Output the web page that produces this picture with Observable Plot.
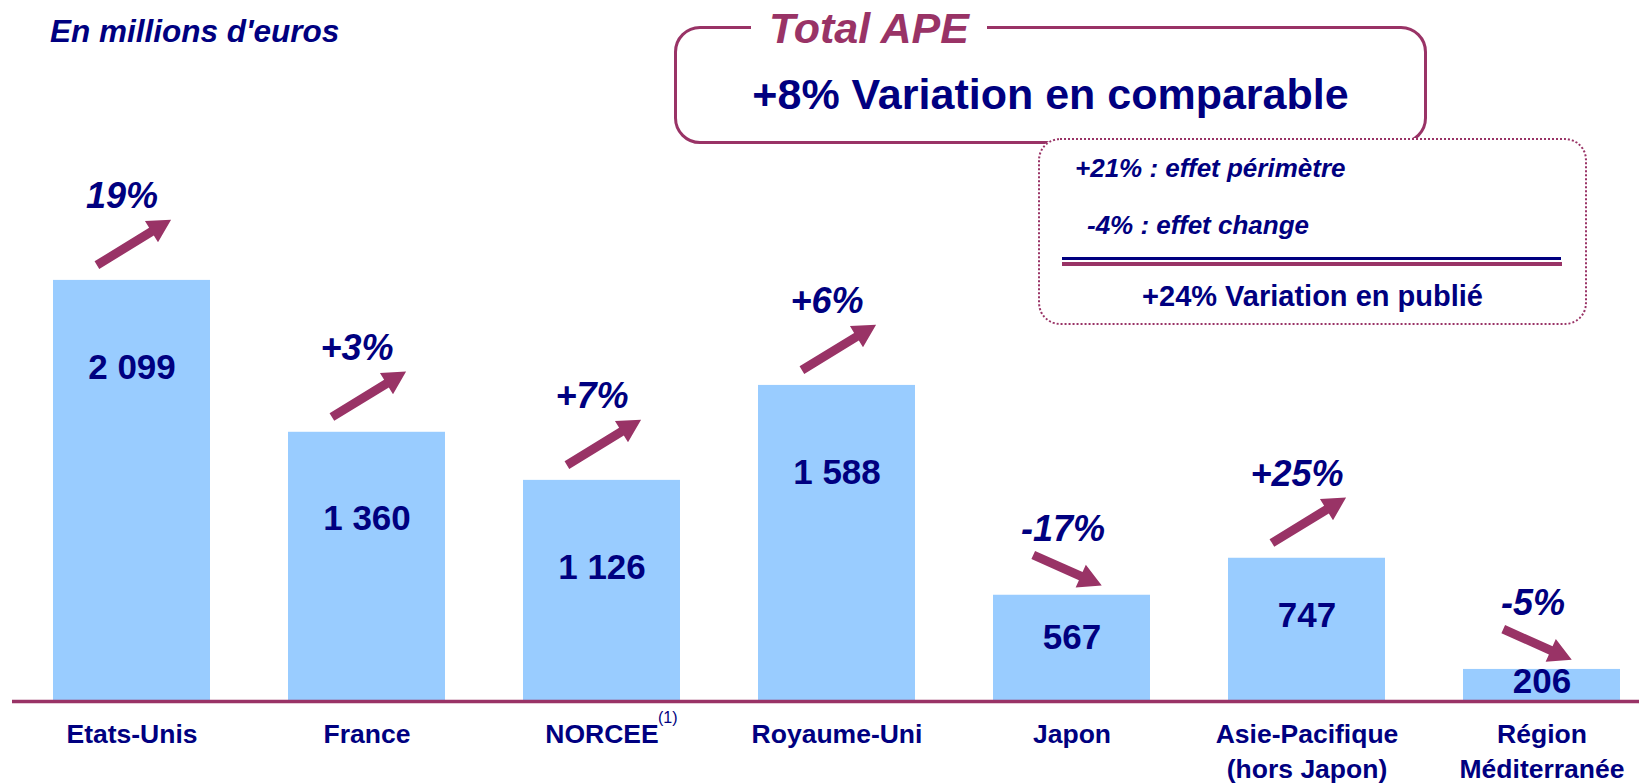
<!DOCTYPE html>
<html>
<head>
<meta charset="utf-8">
<script src="https://cdn.jsdelivr.net/npm/d3@7"></script>
<script src="https://cdn.jsdelivr.net/npm/@observablehq/plot@0.6"></script>
<style>
  body { margin: 0; background: #fff; }
  #wrap { position: relative; width: 1639px; height: 783px; overflow: hidden;
          font-family: "Liberation Sans", Arial, sans-serif; background: #fff; }
  #chart { position: absolute; left: 0; top: 0; }
  .ov { position: absolute; white-space: nowrap; color: #000080; font-weight: bold; }
  .it { font-style: italic; }
  #unit { left: 50px; top: 12px; font-size: 31.5px; line-height: 38px; }
  #apeBox { position: absolute; left: 674px; top: 26px; width: 753px; height: 118px; box-sizing: border-box;
            border: 3.5px solid #993366; border-radius: 26px; background: #fff; }
  #apeTitle { left: 751px; top: 5px; font-size: 43px; line-height: 46px; color: #993366; background: #fff; padding: 0 18px; }
  #apeLine { left: 674px; width: 753px; text-align: center; top: 70px; font-size: 43px; line-height: 48px; }
  #detailBox { position: absolute; left: 1038px; top: 138px; width: 549px; height: 187px; box-sizing: border-box;
               border: 2px dotted #993366; border-radius: 22px; background: #fff; }
  #eff1 { left: 1075px; top: 153px; font-size: 26px; line-height: 30px; }
  #eff2 { left: 1087px; top: 210px; font-size: 26px; line-height: 30px; }
  #navyLine { position: absolute; left: 1062px; top: 256.5px; width: 499px; height: 3px; background: #000080; }
  #maroonLine { position: absolute; left: 1062px; top: 261.5px; width: 500px; height: 4px; background: #993366; }
  #pub { left: 1038px; width: 549px; text-align: center; top: 279px; font-size: 29px; line-height: 34px; }
</style>
</head>
<body>
<div id="wrap">
  <div id="chart"></div>
  <div class="ov it" id="unit"></div>
  <div id="apeBox"></div>
  <div class="ov it" id="apeTitle"></div>
  <div class="ov" id="apeLine"></div>
  <div id="detailBox"></div>
  <div class="ov it" id="eff1"></div>
  <div class="ov it" id="eff2"></div>
  <div id="navyLine"></div>
  <div id="maroonLine"></div>
  <div class="ov" id="pub"></div>
</div>
<script>
// ---- data ----
const categories = ["Etats-Unis", "France", "NORCEE", "Royaume-Uni", "Japon", "Asie-Pacifique", "Région Méditerranée"];
const axisLabels = ["Etats-Unis", "France", "NORCEE", "Royaume-Uni", "Japon", "Asie-Pacifique\n(hors Japon)", "Région\nMéditerranée"];
const footnotes = ["", "", "(1)", "", "", "", ""];
const apeValues = [2099, 1360, 1126, 1588, 567, 747, 206];
const changes = [19, 3, 7, 6, -17, 25, -5];
const changeLabels = ["19%", "+3%", "+7%", "+6%", "-17%", "+25%", "-5%"];

const unitLabel = "En millions d'euros";
const totalTitle = "Total APE";
const totalLine = "+8% Variation en comparable";
const effectLines = ["+21% : effet périmètre", "-4% : effet change"];
const publishedLine = "+24% Variation en publié";

// ---- styles ----
const NAVY = "#000080", MAROON = "#993366", BAR = "#99ccff";
const FONT = "Liberation Sans, Arial, sans-serif";

document.getElementById("unit").textContent = unitLabel;
document.getElementById("apeTitle").textContent = totalTitle;
document.getElementById("apeLine").textContent = totalLine;
document.getElementById("eff1").textContent = effectLines[0];
document.getElementById("eff2").textContent = effectLines[1];
document.getElementById("pub").textContent = publishedLine;

const data = categories.map((cat, i) => ({
  cat, label: axisLabels[i], note: footnotes[i], value: apeValues[i],
  change: changes[i], pct: changeLabels[i]
}));

const fmt = d3.formatLocale({decimal: ",", thousands: " ", grouping: [3], currency: ["", " €"]}).format(",");
const labelY = v => Math.max(v - 423, 50 + (v - 50) * 0.6);

// block arrow shape (points from 0,0 to 0,-l)
const blockArrow = {
  draw(context, l) {
    const hw = 4.5, HW = 12.5, HL = 23;
    context.moveTo(-hw, 0);
    context.lineTo(-hw, -l + HL);
    context.lineTo(-HW, -l + HL);
    context.lineTo(0, -l);
    context.lineTo(HW, -l + HL);
    context.lineTo(hw, -l + HL);
    context.lineTo(hw, 0);
    context.closePath();
  }
};

const chart = Plot.plot({
  width: 1639,
  height: 783,
  marginTop: 0,
  marginBottom: 82,
  marginLeft: 52,
  marginRight: 18.5,
  style: {fontFamily: FONT, background: "#fff"},
  x: {domain: categories, paddingInner: 0.333, paddingOuter: 0, axis: null},
  y: {domain: [50, 3461], axis: null},
  marks: [
    Plot.barY(data, {x: "cat", y: "value", fill: BAR, clip: true}),
    Plot.ruleY([50], {stroke: MAROON, strokeWidth: 3.7, insetLeft: -40, insetRight: -19}),
    Plot.text(data, {x: "cat", y: d => labelY(d.value), text: d => fmt(d.value),
      fontSize: 35, fontWeight: "bold", fill: NAVY, fontFamily: FONT}),
    Plot.vector(data, {filter: d => d.change > 0, x: "cat", y: "value", length: 87, rotate: 58.5,
      dx: 2, dy: -38, anchor: "middle", shape: blockArrow, fill: MAROON, stroke: "none"}),
    Plot.vector(data, {filter: d => d.change < 0, x: "cat", y: "value", length: 75, rotate: 114,
      dx: -4.5, dy: -25, anchor: "middle", shape: blockArrow, fill: MAROON, stroke: "none"}),
    Plot.text(data, {filter: d => d.change > 0, x: "cat", y: "value", text: "pct", dx: -10, dy: -84,
      fontSize: 36, fontWeight: "bold", fontStyle: "italic", fill: NAVY, fontFamily: FONT}),
    Plot.text(data, {filter: d => d.change < 0, x: "cat", y: "value", text: "pct", dx: -9, dy: -66,
      fontSize: 36, fontWeight: "bold", fontStyle: "italic", fill: NAVY, fontFamily: FONT}),
    Plot.text(data, {x: "cat", text: "label", frameAnchor: "bottom", lineAnchor: "top", dy: 17.5,
      lineHeight: 1.3, fontSize: 26.5, fontWeight: "bold", fill: NAVY, fontFamily: FONT}),
    Plot.text(data, {filter: d => d.note, x: "cat", text: "note", frameAnchor: "bottom", dx: 56, dy: 21,
      textAnchor: "start", fontSize: 16, fill: NAVY, fontFamily: FONT})
  ]
});
document.getElementById("chart").appendChild(chart);
</script>
</body>
</html>
